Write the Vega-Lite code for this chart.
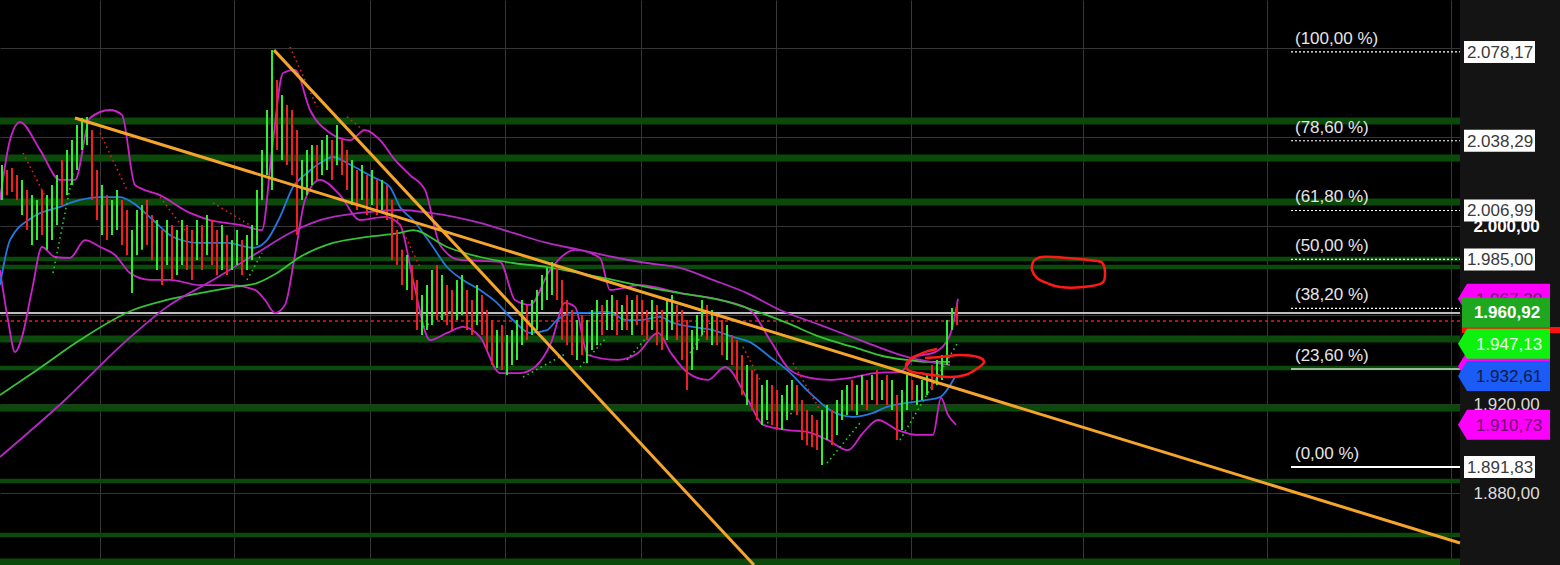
{
"$schema": "https://vega.github.io/schema/vega-lite/v6.json",
"width": 1460, "height": 565,
"autosize": {"type": "none"},
"padding": {"left": 0, "top": 0, "right": 100, "bottom": 0},
"background": "#141414",
"config": {"view": {"fill": "#000000", "stroke": null}, "font": "Liberation Sans", "text": {"font": "Liberation Sans"},
  "axis": {"title": null, "grid": false, "labels": false, "ticks": false, "domain": false}},
"resolve": {"scale": {"color": "independent"}},
"datasets": {
"bands": [
{"v": 2047.2, "k": "major"}, {"v": 2030.6, "k": "major"}, {"v": 2010.8, "k": "major"}, {"v": 1985.2, "k": "minor"}, {"v": 1981.6, "k": "minor"}, {"v": 1949.3, "k": "major"}, {"v": 1936.3, "k": "minor"}, {"v": 1918.3, "k": "major"}, {"v": 1885.5, "k": "minor"}, {"v": 1861.3, "k": "minor"}, {"v": 1849.2, "k": "major"}
],
"price": [{"kind": "last", "v": 1960.92}, {"kind": "close", "v": 1957.4}],
"candles": [
{"t":0,"h":2027.4,"l":2011.7,"d":"u"},{"t":1,"h":2025.2,"l":2013.9,"d":"d"},{"t":2,"h":2026.1,"l":2015.3,"d":"d"},{"t":3,"h":2022.9,"l":2011.7,"d":"d"},{"t":4,"h":2020.7,"l":2005.0,"d":"u"},{"t":5,"h":2016.2,"l":1998.2,"d":"d"},{"t":6,"h":2013.9,"l":1991.5,"d":"u"},{"t":7,"h":2011.7,"l":1993.7,"d":"u"},{"t":8,"h":2016.2,"l":1996.0,"d":"d"},{"t":9,"h":2013.9,"l":1989.3,"d":"u"},
{"t":10,"h":2018.4,"l":1993.7,"d":"u"},{"t":11,"h":2022.9,"l":2000.5,"d":"u"},{"t":12,"h":2029.7,"l":2009.5,"d":"d"},{"t":13,"h":2034.2,"l":2013.9,"d":"u"},{"t":14,"h":2038.6,"l":2018.4,"d":"u"},{"t":15,"h":2045.4,"l":2025.2,"d":"u"},{"t":16,"h":2048.5,"l":2034.2,"d":"u"},{"t":17,"h":2049.0,"l":2036.4,"d":"u"},{"t":18,"h":2043.1,"l":2011.7,"d":"d"},{"t":19,"h":2025.2,"l":2002.7,"d":"d"},
{"t":20,"h":2018.4,"l":1996.0,"d":"u"},{"t":21,"h":2013.9,"l":1993.7,"d":"d"},{"t":22,"h":2011.7,"l":1996.0,"d":"u"},{"t":23,"h":2016.2,"l":1998.2,"d":"u"},{"t":24,"h":2011.7,"l":1991.5,"d":"d"},{"t":25,"h":2007.2,"l":1987.0,"d":"d"},{"t":26,"h":1998.2,"l":1969.9,"d":"u"},{"t":27,"h":2007.2,"l":1987.0,"d":"u"},{"t":28,"h":2009.5,"l":1989.3,"d":"u"},{"t":29,"h":2011.7,"l":1991.5,"d":"d"},
{"t":30,"h":2005.0,"l":1984.8,"d":"d"},{"t":31,"h":2002.7,"l":1980.3,"d":"u"},{"t":32,"h":1998.2,"l":1973.5,"d":"d"},{"t":33,"h":2002.7,"l":1982.5,"d":"u"},{"t":34,"h":2000.5,"l":1975.8,"d":"d"},{"t":35,"h":1998.2,"l":1978.0,"d":"u"},{"t":36,"h":2002.7,"l":1982.5,"d":"u"},{"t":37,"h":2000.5,"l":1980.3,"d":"d"},{"t":38,"h":1998.2,"l":1975.8,"d":"d"},{"t":39,"h":2002.7,"l":1984.8,"d":"u"},
{"t":40,"h":2000.5,"l":1980.3,"d":"d"},{"t":41,"h":2005.0,"l":1987.0,"d":"u"},{"t":42,"h":2002.7,"l":1982.5,"d":"d"},{"t":43,"h":1998.2,"l":1978.0,"d":"d"},{"t":44,"h":2000.5,"l":1980.3,"d":"u"},{"t":45,"h":1996.0,"l":1978.0,"d":"d"},{"t":46,"h":1993.7,"l":1980.3,"d":"u"},{"t":47,"h":1998.2,"l":1982.5,"d":"u"},{"t":48,"h":1993.7,"l":1978.0,"d":"d"},{"t":49,"h":1996.0,"l":1980.3,"d":"u"},
{"t":50,"h":2000.5,"l":1984.8,"d":"u"},{"t":51,"h":2016.2,"l":1991.5,"d":"u"},{"t":52,"h":2034.2,"l":2011.7,"d":"u"},{"t":53,"h":2052.1,"l":2022.9,"d":"u"},{"t":54,"h":2079.0,"l":2016.2,"d":"u"},{"t":55,"h":2065.6,"l":2034.2,"d":"d"},{"t":56,"h":2058.8,"l":2029.7,"d":"u"},{"t":57,"h":2054.4,"l":2027.4,"d":"d"},{"t":58,"h":2052.1,"l":2022.9,"d":"d"},{"t":59,"h":2043.1,"l":1996.0,"d":"d"},
{"t":60,"h":2029.7,"l":2011.7,"d":"u"},{"t":61,"h":2034.2,"l":2013.9,"d":"u"},{"t":62,"h":2036.4,"l":2018.4,"d":"u"},{"t":63,"h":2036.4,"l":2020.7,"d":"d"},{"t":64,"h":2038.6,"l":2022.9,"d":"u"},{"t":65,"h":2040.9,"l":2025.2,"d":"u"},{"t":66,"h":2038.6,"l":2020.7,"d":"d"},{"t":67,"h":2045.4,"l":2027.4,"d":"u"},{"t":68,"h":2038.6,"l":2022.9,"d":"d"},{"t":69,"h":2034.2,"l":2016.2,"d":"d"},
{"t":70,"h":2029.7,"l":2009.5,"d":"u"},{"t":71,"h":2025.2,"l":2007.2,"d":"d"},{"t":72,"h":2027.4,"l":2011.7,"d":"u"},{"t":73,"h":2022.9,"l":2005.0,"d":"d"},{"t":74,"h":2025.2,"l":2009.5,"d":"u"},{"t":75,"h":2020.7,"l":2005.0,"d":"d"},{"t":76,"h":2020.7,"l":2007.2,"d":"u"},{"t":77,"h":2018.4,"l":2002.7,"d":"d"},{"t":78,"h":2011.7,"l":1984.8,"d":"d"},{"t":79,"h":1998.2,"l":1982.5,"d":"d"},
{"t":80,"h":1989.3,"l":1973.5,"d":"d"},{"t":81,"h":1987.0,"l":1971.3,"d":"u"},{"t":82,"h":1982.5,"l":1966.8,"d":"d"},{"t":83,"h":1975.8,"l":1953.3,"d":"d"},{"t":84,"h":1969.0,"l":1951.1,"d":"u"},{"t":85,"h":1973.5,"l":1953.3,"d":"u"},{"t":86,"h":1980.3,"l":1955.6,"d":"u"},{"t":87,"h":1982.5,"l":1957.8,"d":"d"},{"t":88,"h":1978.0,"l":1957.8,"d":"u"},{"t":89,"h":1973.5,"l":1955.6,"d":"d"},
{"t":90,"h":1971.3,"l":1953.3,"d":"d"},{"t":91,"h":1975.8,"l":1957.8,"d":"u"},{"t":92,"h":1978.0,"l":1960.1,"d":"u"},{"t":93,"h":1971.3,"l":1953.3,"d":"d"},{"t":94,"h":1966.8,"l":1951.1,"d":"d"},{"t":95,"h":1973.5,"l":1955.6,"d":"u"},{"t":96,"h":1969.0,"l":1951.1,"d":"d"},{"t":97,"h":1962.3,"l":1944.3,"d":"d"},{"t":98,"h":1957.8,"l":1937.6,"d":"d"},{"t":99,"h":1953.3,"l":1936.3,"d":"u"},
{"t":100,"h":1955.6,"l":1935.4,"d":"d"},{"t":101,"h":1951.1,"l":1933.1,"d":"u"},{"t":102,"h":1953.3,"l":1937.6,"d":"u"},{"t":103,"h":1957.8,"l":1939.9,"d":"u"},{"t":104,"h":1966.8,"l":1946.6,"d":"u"},{"t":105,"h":1964.6,"l":1948.8,"d":"d"},{"t":106,"h":1966.8,"l":1951.1,"d":"u"},{"t":107,"h":1971.3,"l":1953.3,"d":"u"},{"t":108,"h":1978.0,"l":1962.3,"d":"u"},{"t":109,"h":1981.2,"l":1966.8,"d":"u"},
{"t":110,"h":1983.9,"l":1969.0,"d":"u"},{"t":111,"h":1982.5,"l":1966.8,"d":"d"},{"t":112,"h":1975.8,"l":1948.8,"d":"d"},{"t":113,"h":1966.8,"l":1946.6,"d":"d"},{"t":114,"h":1962.3,"l":1942.1,"d":"d"},{"t":115,"h":1957.8,"l":1939.9,"d":"u"},{"t":116,"h":1960.1,"l":1942.1,"d":"d"},{"t":117,"h":1957.8,"l":1938.5,"d":"u"},{"t":118,"h":1962.3,"l":1944.3,"d":"u"},{"t":119,"h":1966.8,"l":1946.6,"d":"u"},
{"t":120,"h":1964.6,"l":1951.1,"d":"d"},{"t":121,"h":1966.8,"l":1953.3,"d":"u"},{"t":122,"h":1969.0,"l":1953.3,"d":"u"},{"t":123,"h":1966.8,"l":1951.1,"d":"d"},{"t":124,"h":1964.6,"l":1953.3,"d":"u"},{"t":125,"h":1969.0,"l":1953.3,"d":"d"},{"t":126,"h":1966.8,"l":1951.1,"d":"u"},{"t":127,"h":1969.0,"l":1955.6,"d":"d"},{"t":128,"h":1966.8,"l":1951.1,"d":"d"},{"t":129,"h":1962.3,"l":1948.8,"d":"d"},
{"t":130,"h":1966.8,"l":1953.3,"d":"u"},{"t":131,"h":1964.6,"l":1946.6,"d":"d"},{"t":132,"h":1962.3,"l":1944.3,"d":"d"},{"t":133,"h":1966.8,"l":1948.8,"d":"u"},{"t":134,"h":1969.0,"l":1953.3,"d":"u"},{"t":135,"h":1964.6,"l":1948.8,"d":"d"},{"t":136,"h":1962.3,"l":1939.9,"d":"d"},{"t":137,"h":1957.8,"l":1926.4,"d":"d"},{"t":138,"h":1953.3,"l":1935.4,"d":"u"},{"t":139,"h":1960.1,"l":1944.3,"d":"u"},
{"t":140,"h":1966.8,"l":1951.1,"d":"u"},{"t":141,"h":1964.6,"l":1948.8,"d":"d"},{"t":142,"h":1962.3,"l":1946.6,"d":"u"},{"t":143,"h":1960.1,"l":1946.6,"d":"d"},{"t":144,"h":1957.8,"l":1942.1,"d":"d"},{"t":145,"h":1955.6,"l":1939.9,"d":"u"},{"t":146,"h":1951.1,"l":1937.6,"d":"d"},{"t":147,"h":1948.8,"l":1930.9,"d":"d"},{"t":148,"h":1942.1,"l":1924.1,"d":"d"},{"t":149,"h":1937.6,"l":1919.7,"d":"u"},
{"t":150,"h":1935.4,"l":1917.4,"d":"d"},{"t":151,"h":1933.1,"l":1912.9,"d":"d"},{"t":152,"h":1928.6,"l":1910.7,"d":"u"},{"t":153,"h":1930.9,"l":1912.9,"d":"u"},{"t":154,"h":1928.6,"l":1910.7,"d":"d"},{"t":155,"h":1926.4,"l":1908.4,"d":"d"},{"t":156,"h":1924.1,"l":1908.4,"d":"u"},{"t":157,"h":1928.6,"l":1912.9,"d":"u"},{"t":158,"h":1930.9,"l":1917.4,"d":"u"},{"t":159,"h":1928.6,"l":1915.2,"d":"d"},
{"t":160,"h":1921.9,"l":1903.9,"d":"d"},{"t":161,"h":1917.4,"l":1901.7,"d":"d"},{"t":162,"h":1915.2,"l":1900.8,"d":"d"},{"t":163,"h":1912.9,"l":1899.4,"d":"d"},{"t":164,"h":1917.4,"l":1892.7,"d":"u"},{"t":165,"h":1919.7,"l":1903.9,"d":"u"},{"t":166,"h":1917.4,"l":1901.7,"d":"d"},{"t":167,"h":1921.9,"l":1906.2,"d":"u"},{"t":168,"h":1926.4,"l":1912.9,"d":"u"},{"t":169,"h":1928.6,"l":1915.2,"d":"u"},
{"t":170,"h":1930.9,"l":1917.4,"d":"d"},{"t":171,"h":1928.6,"l":1915.2,"d":"u"},{"t":172,"h":1933.1,"l":1919.7,"d":"u"},{"t":173,"h":1930.9,"l":1917.4,"d":"d"},{"t":174,"h":1933.1,"l":1921.9,"d":"u"},{"t":175,"h":1935.4,"l":1919.7,"d":"d"},{"t":176,"h":1930.9,"l":1921.9,"d":"u"},{"t":177,"h":1933.1,"l":1919.7,"d":"d"},{"t":178,"h":1930.9,"l":1917.4,"d":"u"},{"t":179,"h":1924.1,"l":1903.9,"d":"d"},
{"t":180,"h":1926.4,"l":1908.4,"d":"u"},{"t":181,"h":1933.1,"l":1917.4,"d":"u"},{"t":182,"h":1930.9,"l":1921.9,"d":"d"},{"t":183,"h":1928.6,"l":1919.7,"d":"u"},{"t":184,"h":1930.9,"l":1921.9,"d":"u"},{"t":185,"h":1933.1,"l":1924.1,"d":"u"},{"t":186,"h":1937.6,"l":1926.4,"d":"d"},{"t":187,"h":1939.9,"l":1928.6,"d":"u"},{"t":188,"h":1942.1,"l":1930.9,"d":"u"},{"t":189,"h":1957.8,"l":1937.6,"d":"u"},
{"t":190,"h":1963.2,"l":1953.3,"d":"u"},{"t":191,"h":1964.6,"l":1955.6,"d":"d"}
],
"ind": [
{"s":"bbU","t":-0.4,"v":2011.7},{"s":"bbU","t":1.6,"v":2038.6},{"s":"bbU","t":3.6,"v":2046.7},{"s":"bbU","t":7.6,"v":2034.2},{"s":"bbU","t":11.6,"v":2020.7},{"s":"bbU","t":14.6,"v":2020.7},{"s":"bbU","t":17.6,"v":2048.5},{"s":"bbU","t":21.6,"v":2052.1},{"s":"bbU","t":24,"v":2049.9},{"s":"bbU","t":26.6,"v":2018.4},{"s":"bbU","t":31.6,"v":2013.9},{"s":"bbU","t":37.6,"v":2005.9},{"s":"bbU","t":41.6,"v":2002.7},{"s":"bbU","t":47.6,"v":2000.5},{"s":"bbU","t":52,"v":1998.2},{"s":"bbU","t":54,"v":2034.2},{"s":"bbU","t":56.2,"v":2068.7},{"s":"bbU","t":58.6,"v":2070.1},{"s":"bbU","t":61.6,"v":2052.1},{"s":"bbU","t":65.6,"v":2041.8},{"s":"bbU","t":69.6,"v":2038.6},{"s":"bbU","t":72.6,"v":2043.1},{"s":"bbU","t":75.6,"v":2038.6},{"s":"bbU","t":78.6,"v":2029.7},{"s":"bbU","t":81.6,"v":2022.9},{"s":"bbU","t":84.6,"v":2016.2},{"s":"bbU","t":87.6,"v":1991.5},{"s":"bbU","t":91.6,"v":1984.8},{"s":"bbU","t":99.6,"v":1983.9},{"s":"bbU","t":102.6,"v":1966.8},{"s":"bbU","t":105.6,"v":1964.6},{"s":"bbU","t":109.6,"v":1980.3},{"s":"bbU","t":114.6,"v":1989.3},{"s":"bbU","t":119.6,"v":1985.7},{"s":"bbU","t":121.6,"v":1971.3},{"s":"bbU","t":127.6,"v":1973.5},{"s":"bbU","t":135.6,"v":1969.9},{"s":"bbU","t":143.6,"v":1966.8},{"s":"bbU","t":149.6,"v":1962.3},{"s":"bbU","t":153.6,"v":1948.8},{"s":"bbU","t":157.6,"v":1935.4},{"s":"bbU","t":161.6,"v":1931.8},{"s":"bbU","t":165.6,"v":1930.9},{"s":"bbU","t":169.6,"v":1931.8},{"s":"bbU","t":174.6,"v":1934.0},{"s":"bbU","t":179.6,"v":1934.5},{"s":"bbU","t":182.6,"v":1941.2},{"s":"bbU","t":186.6,"v":1943.4},{"s":"bbU","t":189.6,"v":1951.1},{"s":"bbU","t":191.2,"v":1967.3},
{"s":"bbL","t":-0.4,"v":1980.3},{"s":"bbL","t":1.2,"v":1957.8},{"s":"bbL","t":2.6,"v":1943.4},{"s":"bbL","t":4,"v":1950.2},{"s":"bbL","t":6,"v":1971.3},{"s":"bbL","t":8,"v":1990.6},{"s":"bbL","t":10.6,"v":1986.1},{"s":"bbL","t":13.6,"v":1985.7},{"s":"bbL","t":16.6,"v":1993.7},{"s":"bbL","t":19.6,"v":1990.6},{"s":"bbL","t":22.6,"v":1987.0},{"s":"bbL","t":25.6,"v":1978.9},{"s":"bbL","t":29.6,"v":1975.8},{"s":"bbL","t":33.6,"v":1975.8},{"s":"bbL","t":39.6,"v":1973.5},{"s":"bbL","t":45.6,"v":1973.5},{"s":"bbL","t":50.6,"v":1971.3},{"s":"bbL","t":52.6,"v":1966.8},{"s":"bbL","t":54.6,"v":1961.0},{"s":"bbL","t":56.6,"v":1964.6},{"s":"bbL","t":58.6,"v":1987.0},{"s":"bbL","t":60.6,"v":2011.7},{"s":"bbL","t":63.6,"v":2020.7},{"s":"bbL","t":67.6,"v":2013.9},{"s":"bbL","t":71.6,"v":2002.7},{"s":"bbL","t":76.6,"v":2004.1},{"s":"bbL","t":79.6,"v":2000.5},{"s":"bbL","t":82.2,"v":1975.8},{"s":"bbL","t":85.6,"v":1948.8},{"s":"bbL","t":89,"v":1952.0},{"s":"bbL","t":92.2,"v":1954.7},{"s":"bbL","t":95.6,"v":1950.2},{"s":"bbL","t":99.6,"v":1934.0},{"s":"bbL","t":103.6,"v":1934.0},{"s":"bbL","t":106.6,"v":1936.7},{"s":"bbL","t":109.8,"v":1947.5},{"s":"bbL","t":112.6,"v":1965.5},{"s":"bbL","t":114.6,"v":1963.7},{"s":"bbL","t":117.2,"v":1942.1},{"s":"bbL","t":123.2,"v":1939.9},{"s":"bbL","t":127.2,"v":1943.0},{"s":"bbL","t":131.2,"v":1952.0},{"s":"bbL","t":133.8,"v":1943.0},{"s":"bbL","t":137.2,"v":1934.0},{"s":"bbL","t":141.2,"v":1930.9},{"s":"bbL","t":144.6,"v":1936.7},{"s":"bbL","t":149.2,"v":1921.9},{"s":"bbL","t":152.2,"v":1910.7},{"s":"bbL","t":157.2,"v":1908.4},{"s":"bbL","t":161.2,"v":1907.5},{"s":"bbL","t":165.2,"v":1903.9},{"s":"bbL","t":169.2,"v":1899.4},{"s":"bbL","t":172.2,"v":1907.1},{"s":"bbL","t":175.2,"v":1912.9},{"s":"bbL","t":179.2,"v":1908.4},{"s":"bbL","t":183.2,"v":1906.2},{"s":"bbL","t":186.2,"v":1906.2},{"s":"bbL","t":187.8,"v":1922.8},{"s":"bbL","t":189.2,"v":1915.2},{"s":"bbL","t":190.8,"v":1910.7},
{"s":"ma20","t":-0.4,"v":1973.5},{"s":"ma20","t":1.6,"v":1993.7},{"s":"ma20","t":6.2,"v":2004.1},{"s":"ma20","t":11.6,"v":2008.6},{"s":"ma20","t":15.6,"v":2011.7},{"s":"ma20","t":19.6,"v":2013.0},{"s":"ma20","t":23.6,"v":2013.0},{"s":"ma20","t":26.2,"v":2010.4},{"s":"ma20","t":30.2,"v":2002.7},{"s":"ma20","t":34.2,"v":1995.1},{"s":"ma20","t":39.6,"v":1992.4},{"s":"ma20","t":45,"v":1992.4},{"s":"ma20","t":50.2,"v":1990.2},{"s":"ma20","t":53,"v":1993.7},{"s":"ma20","t":55.6,"v":2004.1},{"s":"ma20","t":58.2,"v":2017.5},{"s":"ma20","t":61,"v":2023.8},{"s":"ma20","t":63.6,"v":2028.3},{"s":"ma20","t":66.2,"v":2031.0},{"s":"ma20","t":69,"v":2028.3},{"s":"ma20","t":71.6,"v":2025.2},{"s":"ma20","t":74.2,"v":2022.0},{"s":"ma20","t":77.6,"v":2017.5},{"s":"ma20","t":79.6,"v":2008.6},{"s":"ma20","t":82.2,"v":2002.7},{"s":"ma20","t":86.2,"v":1990.6},{"s":"ma20","t":89,"v":1981.6},{"s":"ma20","t":92.2,"v":1975.8},{"s":"ma20","t":95.6,"v":1971.3},{"s":"ma20","t":99,"v":1965.5},{"s":"ma20","t":102.2,"v":1957.8},{"s":"ma20","t":105.6,"v":1952.0},{"s":"ma20","t":109,"v":1953.3},{"s":"ma20","t":111,"v":1957.8},{"s":"ma20","t":114.2,"v":1961.0},{"s":"ma20","t":117,"v":1961.0},{"s":"ma20","t":121,"v":1961.4},{"s":"ma20","t":125,"v":1957.8},{"s":"ma20","t":127.6,"v":1957.8},{"s":"ma20","t":131.6,"v":1959.2},{"s":"ma20","t":134.2,"v":1956.5},{"s":"ma20","t":138.2,"v":1954.7},{"s":"ma20","t":142.2,"v":1953.3},{"s":"ma20","t":146.2,"v":1950.2},{"s":"ma20","t":149.6,"v":1947.9},{"s":"ma20","t":153.6,"v":1941.2},{"s":"ma20","t":157,"v":1935.4},{"s":"ma20","t":161.6,"v":1925.0},{"s":"ma20","t":165.6,"v":1917.4},{"s":"ma20","t":170.2,"v":1914.3},{"s":"ma20","t":174.2,"v":1916.1},{"s":"ma20","t":177,"v":1918.8},{"s":"ma20","t":181,"v":1920.6},{"s":"ma20","t":185,"v":1921.9},{"s":"ma20","t":187.6,"v":1923.2},{"s":"ma20","t":190.6,"v":1932.2},
{"s":"ma100","t":-0.4,"v":1924.1},{"s":"ma100","t":7.6,"v":1936.3},{"s":"ma100","t":15.6,"v":1948.8},{"s":"ma100","t":26.2,"v":1962.3},{"s":"ma100","t":33,"v":1966.8},{"s":"ma100","t":39.6,"v":1969.9},{"s":"ma100","t":46.2,"v":1972.6},{"s":"ma100","t":51,"v":1974.4},{"s":"ma100","t":55,"v":1978.9},{"s":"ma100","t":59.6,"v":1986.1},{"s":"ma100","t":66.2,"v":1992.4},{"s":"ma100","t":73,"v":1995.1},{"s":"ma100","t":79.6,"v":1996.9},{"s":"ma100","t":82.2,"v":1998.2},{"s":"ma100","t":89,"v":1990.6},{"s":"ma100","t":95.6,"v":1986.1},{"s":"ma100","t":102.2,"v":1983.4},{"s":"ma100","t":109,"v":1981.6},{"s":"ma100","t":115.6,"v":1978.9},{"s":"ma100","t":122.2,"v":1975.8},{"s":"ma100","t":129,"v":1972.6},{"s":"ma100","t":135.6,"v":1969.9},{"s":"ma100","t":143.6,"v":1966.8},{"s":"ma100","t":150.2,"v":1962.3},{"s":"ma100","t":157,"v":1956.5},{"s":"ma100","t":163.6,"v":1950.2},{"s":"ma100","t":170.2,"v":1945.7},{"s":"ma100","t":177,"v":1941.2},{"s":"ma100","t":181,"v":1939.9},{"s":"ma100","t":185,"v":1939.0},{"s":"ma100","t":189.6,"v":1939.0},
{"s":"ma200","t":-0.4,"v":1896.3},{"s":"ma200","t":12.6,"v":1921.9},{"s":"ma200","t":25,"v":1948.8},{"s":"ma200","t":33,"v":1963.7},{"s":"ma200","t":42.2,"v":1975.8},{"s":"ma200","t":51,"v":1987.9},{"s":"ma200","t":57.6,"v":1996.9},{"s":"ma200","t":63.6,"v":2002.7},{"s":"ma200","t":71.6,"v":2005.9},{"s":"ma200","t":79.6,"v":2007.2},{"s":"ma200","t":85.6,"v":2005.9},{"s":"ma200","t":95.6,"v":2001.4},{"s":"ma200","t":102.2,"v":1996.9},{"s":"ma200","t":109,"v":1992.4},{"s":"ma200","t":115.6,"v":1989.3},{"s":"ma200","t":122.2,"v":1986.1},{"s":"ma200","t":129,"v":1983.4},{"s":"ma200","t":135.6,"v":1981.2},{"s":"ma200","t":142.2,"v":1975.8},{"s":"ma200","t":149,"v":1969.9},{"s":"ma200","t":155.6,"v":1962.3},{"s":"ma200","t":163.6,"v":1955.6},{"s":"ma200","t":171.6,"v":1948.8},{"s":"ma200","t":181,"v":1941.2},{"s":"ma200","t":185.6,"v":1939.0},{"s":"ma200","t":189.6,"v":1937.6}
],
"sar": [
{"id":"r1","side":"above","t":4.2,"v":2032.8},{"id":"r1","side":"above","t":9,"v":2011.7},
{"id":"g1","side":"below","t":10.2,"v":1978.9},{"id":"g1","side":"below","t":14.2,"v":2023.8},
{"id":"r2","side":"above","t":19.6,"v":2041.8},{"id":"r2","side":"above","t":25,"v":2016.2},
{"id":"r3","side":"above","t":31,"v":2014.8},{"id":"r3","side":"above","t":37,"v":1996.9},
{"id":"r4","side":"above","t":42.2,"v":2010.4},{"id":"r4","side":"above","t":50.2,"v":1999.6},
{"id":"g2","side":"below","t":49,"v":1975.8},{"id":"g2","side":"below","t":52,"v":1987.9},
{"id":"r5","side":"above","t":57.6,"v":2080.4},{"id":"r5","side":"above","t":63,"v":2053.5},
{"id":"r6","side":"above","t":69,"v":2049.0},{"id":"r6","side":"above","t":73,"v":2041.8},
{"id":"r7","side":"above","t":78.6,"v":2005.0},{"id":"r7","side":"above","t":83.6,"v":1981.6},
{"id":"g3","side":"below","t":84.2,"v":1954.7},{"id":"g3","side":"below","t":90.2,"v":1962.3},
{"id":"g4","side":"below","t":104.2,"v":1932.2},{"id":"g4","side":"below","t":113,"v":1943.0},
{"id":"g5","side":"below","t":115.6,"v":1936.7},{"id":"g5","side":"below","t":121,"v":1950.2},
{"id":"g6","side":"below","t":125,"v":1939.9},{"id":"g6","side":"below","t":129,"v":1950.2},
{"id":"g7","side":"below","t":137.6,"v":1943.0},{"id":"g7","side":"below","t":141.6,"v":1956.5},
{"id":"r8","side":"above","t":148.2,"v":1945.7},{"id":"r8","side":"above","t":151.6,"v":1930.9},
{"id":"g8","side":"below","t":153,"v":1911.6},{"id":"g8","side":"below","t":158.2,"v":1916.1},
{"id":"r9","side":"above","t":158.2,"v":1938.5},{"id":"r9","side":"above","t":163.6,"v":1917.4},
{"id":"g9","side":"below","t":165,"v":1893.6},{"id":"g9","side":"below","t":171.6,"v":1911.6},
{"id":"g10","side":"below","t":179.6,"v":1903.9},{"id":"g10","side":"below","t":191,"v":1947.1}
],
"trend": [
{"id":"a","t":14.6,"v":2048.5},{"id":"a","t":291.6,"v":1857.7},
{"id":"b","t":54.4,"v":2079.0},{"id":"b","t":150.4,"v":1847.8}
],
"fib": [
{"pct":100,"p":"(100,00 %)","v":2078.17,"vt":"2.078,17","t0":257.8,"t1":291.6},
{"pct":78.6,"p":"(78,60 %)","v":2038.29,"vt":"2.038,29","t0":257.8,"t1":291.6},
{"pct":61.8,"p":"(61,80 %)","v":2006.99,"vt":"2.006,99","t0":257.8,"t1":291.6},
{"pct":50,"p":"(50,00 %)","v":1985.0,"vt":"1.985,00","t0":257.8,"t1":291.6},
{"pct":38.2,"p":"(38,20 %)","v":1963.01,"vt":"1.963,01","t0":257.8,"t1":291.6},
{"pct":23.6,"p":"(23,60 %)","v":1935.81,"vt":"1.935,81","t0":257.8,"t1":291.6},
{"pct":0,"p":"(0,00 %)","v":1891.83,"vt":"1.891,83","t0":257.8,"t1":291.6}
],
"tags": [
{"name":"bbU","v":1967.3,"vt":"1.967,30"},
{"name":"close","v":1957.4,"vt":"1.957,40"},
{"name":"last","v":1960.92,"vt":"1.960,92"},
{"name":"ma200","v":1937.0,"vt":"1.937,00"},
{"name":"sar","v":1947.13,"vt":"1.947,13"},
{"name":"ma20","v":1932.61,"vt":"1.932,61"},
{"name":"bbL","v":1910.73,"vt":"1.910,73"}
],
"marks": [
{"id":"e1","i":0,"t":206.2,"v":1983.9},{"id":"e1","i":1,"t":208,"v":1986.1},{"id":"e1","i":2,"t":213,"v":1985.7},{"id":"e1","i":3,"t":219,"v":1984.3},{"id":"e1","i":4,"t":220.2,"v":1983.0},{"id":"e1","i":5,"t":220.6,"v":1978.9},{"id":"e1","i":6,"t":220,"v":1974.4},{"id":"e1","i":7,"t":216.2,"v":1972.6},{"id":"e1","i":8,"t":211.6,"v":1972.6},{"id":"e1","i":9,"t":209,"v":1974.4},{"id":"e1","i":10,"t":207,"v":1976.7},{"id":"e1","i":11,"t":206,"v":1980.3},{"id":"e1","i":12,"t":206.2,"v":1983.9},
{"id":"e2","i":0,"t":187,"v":1944.8},{"id":"e2","i":1,"t":184.6,"v":1943.4},{"id":"e2","i":2,"t":182,"v":1940.8},{"id":"e2","i":3,"t":180.8,"v":1937.6},{"id":"e2","i":4,"t":181.6,"v":1934.9},{"id":"e2","i":5,"t":184.6,"v":1933.6},{"id":"e2","i":6,"t":189.6,"v":1932.2},{"id":"e2","i":7,"t":192.6,"v":1933.1},{"id":"e2","i":8,"t":195.2,"v":1936.3},{"id":"e2","i":9,"t":196.4,"v":1939.0},{"id":"e2","i":10,"t":195.2,"v":1941.2},{"id":"e2","i":11,"t":191.6,"v":1942.1},{"id":"e2","i":12,"t":187.6,"v":1941.2},{"id":"e2","i":13,"t":184.6,"v":1940.8}
]
},
"layer": [
{"data": {"name": "bands"}, "transform": [{"filter": "datum.k == 'major'"}],
 "mark": {"type": "rule", "color": "#0b4a0b", "strokeWidth": 7},
 "encoding": {"y": {"field": "v", "type": "quantitative", "scale": {"domain": [1847.8, 2101.5], "nice": false, "zero": false},
   "axis": {"orient": "right", "values": [2080, 2040, 2000, 1960, 1920, 1880], "grid": true, "gridColor": "#363636", "gridWidth": 1, "domain": false, "ticks": false, "labels": true, "labelPadding": 13, "labelFontSize": 17, "labelFont": "Liberation Sans", "labelOverlap": false, "title": null,
                 "labelColor": {"condition": {"test": "datum.value == 2000", "value": "#ffffff"}, "value": "#dcdcdc"},
                 "labelFontWeight": {"condition": {"test": "datum.value == 2000", "value": "bold"}, "value": "normal"},
                 "labelExpr": "(datum.value == 2000 || datum.value == 1920 || datum.value == 1880) ? replace(replace(replace(format(datum.value, ',.2f'), ',', ';'), '.', ','), ';', '.') : ''"}}}},
{"data": {"name": "bands"}, "transform": [{"filter": "datum.k == 'minor'"}],
 "mark": {"type": "rule", "color": "#0b4a0b", "strokeWidth": 4.5},
 "encoding": {"y": {"field": "v", "type": "quantitative", "scale": {"domain": [1847.8, 2101.5], "nice": false, "zero": false}}}},
{"data": {"name": "price"}, "transform": [{"filter": "datum.kind == 'last'"}],
 "mark": {"type": "rule", "color": "#bdbdbd", "strokeWidth": 2},
 "encoding": {"y": {"field": "v", "type": "quantitative", "scale": {"domain": [1847.8, 2101.5], "nice": false, "zero": false}}}},
{"data": {"name": "price"}, "transform": [{"filter": "datum.kind == 'close'"}],
 "mark": {"type": "rule", "color": "#e02020", "strokeWidth": 1.5, "strokeDash": [3, 3]},
 "encoding": {"y": {"field": "v", "type": "quantitative", "scale": {"domain": [1847.8, 2101.5], "nice": false, "zero": false}}}},
{"data": {"name": "ind"},
 "mark": {"type": "line", "strokeWidth": 1.8, "interpolate": "monotone"},
 "encoding": {
  "x": {"field": "t", "type": "quantitative", "scale": {"domain": [-0.4, 291.6], "nice": false, "zero": false},
        "axis": {"values": [19.6, 46.4, 73.6, 100.6, 127.8, 154.8, 181.8, 216.2, 253, 289.8], "grid": true, "gridColor": "#363636", "gridWidth": 1, "labels": false, "ticks": false, "domain": false, "title": null}},
  "y": {"field": "v", "type": "quantitative", "scale": {"domain": [1847.8, 2101.5], "nice": false, "zero": false}},
  "color": {"field": "s", "type": "nominal", "scale": {"domain": ["bbU", "bbL", "ma20", "ma100", "ma200"], "range": ["#cc22cc", "#cc22cc", "#2478e0", "#35c435", "#b42ac4"]}, "legend": null}}},
{"data": {"name": "sar"}, "transform": [{"filter": "datum.side == 'above'"}],
 "mark": {"type": "line", "color": "#dd2222", "strokeWidth": 1.6, "strokeDash": [1.6, 3.4]},
 "encoding": {
  "x": {"field": "t", "type": "quantitative", "scale": {"domain": [-0.4, 291.6], "nice": false, "zero": false}},
  "y": {"field": "v", "type": "quantitative", "scale": {"domain": [1847.8, 2101.5], "nice": false, "zero": false}},
  "detail": {"field": "id"}}},
{"data": {"name": "sar"}, "transform": [{"filter": "datum.side == 'below'"}],
 "mark": {"type": "line", "color": "#22cc22", "strokeWidth": 1.6, "strokeDash": [1.6, 3.4]},
 "encoding": {
  "x": {"field": "t", "type": "quantitative", "scale": {"domain": [-0.4, 291.6], "nice": false, "zero": false}},
  "y": {"field": "v", "type": "quantitative", "scale": {"domain": [1847.8, 2101.5], "nice": false, "zero": false}},
  "detail": {"field": "id"}}},
{"data": {"name": "candles"},
 "mark": {"type": "rule", "strokeWidth": 2},
 "encoding": {
  "x": {"field": "t", "type": "quantitative", "scale": {"domain": [-0.4, 291.6], "nice": false, "zero": false}},
  "y": {"field": "l", "type": "quantitative", "scale": {"domain": [1847.8, 2101.5], "nice": false, "zero": false}},
  "y2": {"field": "h"},
  "color": {"field": "d", "type": "nominal", "scale": {"domain": ["u", "d"], "range": ["#2fee2f", "#ee2020"]}, "legend": null}}},
{"data": {"name": "trend"},
 "mark": {"type": "line", "color": "#f4a52a", "strokeWidth": 3},
 "encoding": {
  "x": {"field": "t", "type": "quantitative", "scale": {"domain": [-0.4, 291.6], "nice": false, "zero": false}},
  "y": {"field": "v", "type": "quantitative", "scale": {"domain": [1847.8, 2101.5], "nice": false, "zero": false}},
  "detail": {"field": "id"}}},
{"data": {"name": "fib"}, "transform": [{"filter": "datum.pct > 30"}],
 "mark": {"type": "rule", "color": "#ffffff", "strokeWidth": 1.2, "strokeDash": [2, 2]},
 "encoding": {
  "x": {"field": "t0", "type": "quantitative", "scale": {"domain": [-0.4, 291.6], "nice": false, "zero": false}},
  "x2": {"field": "t1"},
  "y": {"field": "v", "type": "quantitative", "scale": {"domain": [1847.8, 2101.5], "nice": false, "zero": false}}}},
{"data": {"name": "fib"}, "transform": [{"filter": "datum.pct == 23.6"}],
 "mark": {"type": "rule", "color": "#cfe3cf", "strokeWidth": 1.5},
 "encoding": {
  "x": {"field": "t0", "type": "quantitative", "scale": {"domain": [-0.4, 291.6], "nice": false, "zero": false}},
  "x2": {"field": "t1"},
  "y": {"field": "v", "type": "quantitative", "scale": {"domain": [1847.8, 2101.5], "nice": false, "zero": false}}}},
{"data": {"name": "fib"}, "transform": [{"filter": "datum.pct == 0"}],
 "mark": {"type": "rule", "color": "#ffffff", "strokeWidth": 2},
 "encoding": {
  "x": {"field": "t0", "type": "quantitative", "scale": {"domain": [-0.4, 291.6], "nice": false, "zero": false}},
  "x2": {"field": "t1"},
  "y": {"field": "v", "type": "quantitative", "scale": {"domain": [1847.8, 2101.5], "nice": false, "zero": false}}}},
{"data": {"name": "fib"},
 "mark": {"type": "text", "align": "left", "baseline": "bottom", "dx": 4, "dy": -4, "fontSize": 17, "color": "#e6e6e6"},
 "encoding": {
  "x": {"field": "t0", "type": "quantitative", "scale": {"domain": [-0.4, 291.6], "nice": false, "zero": false}},
  "y": {"field": "v", "type": "quantitative", "scale": {"domain": [1847.8, 2101.5], "nice": false, "zero": false}},
  "text": {"field": "p"}}},
{"data": {"name": "fib"},
 "mark": {"type": "point", "shape": "M0.08,-0.22H1.5V0.22H0.08Z", "size": 10000, "filled": true, "fill": "#ffffff", "opacity": 1, "strokeWidth": 0},
 "encoding": {
  "x": {"datum": 291.6, "type": "quantitative", "scale": {"domain": [-0.4, 291.6], "nice": false, "zero": false}},
  "y": {"field": "v", "type": "quantitative", "scale": {"domain": [1847.8, 2101.5], "nice": false, "zero": false}}}},
{"data": {"name": "fib"},
 "mark": {"type": "text", "align": "center", "baseline": "middle", "dx": 40, "dy": 1, "fontSize": 17, "color": "#3a3a3a"},
 "encoding": {
  "x": {"datum": 291.6, "type": "quantitative", "scale": {"domain": [-0.4, 291.6], "nice": false, "zero": false}},
  "y": {"field": "v", "type": "quantitative", "scale": {"domain": [1847.8, 2101.5], "nice": false, "zero": false}},
  "text": {"field": "vt"}}},
{"data": {"name": "tags"}, "transform": [{"filter": "datum.name == 'bbU'"}],
 "mark": {"type": "point", "shape": "M-0.04,0L0.14,-0.3H1.8V0.3H0.14Z", "size": 10000, "filled": true, "fill": "#ff00ff", "opacity": 1, "strokeWidth": 0},
 "encoding": {
  "x": {"datum": 291.6, "type": "quantitative", "scale": {"domain": [-0.4, 291.6], "nice": false, "zero": false}},
  "y": {"field": "v", "type": "quantitative", "scale": {"domain": [1847.8, 2101.5], "nice": false, "zero": false}}}},
{"data": {"name": "tags"}, "transform": [{"filter": "datum.name == 'bbU'"}],
 "mark": {"type": "text", "align": "center", "baseline": "middle", "dx": 49, "dy": 1, "fontSize": 17, "color": "#6e006e"},
 "encoding": {
  "x": {"datum": 291.6, "type": "quantitative", "scale": {"domain": [-0.4, 291.6], "nice": false, "zero": false}},
  "y": {"field": "v", "type": "quantitative", "scale": {"domain": [1847.8, 2101.5], "nice": false, "zero": false}},
  "text": {"field": "vt"}}},
{"data": {"name": "tags"}, "transform": [{"filter": "datum.name == 'close'"}],
 "mark": {"type": "point", "shape": "M0.04,0.12H2V0.24H0.04Z", "size": 10000, "filled": true, "fill": "#ff1010", "opacity": 1, "strokeWidth": 0},
 "encoding": {
  "x": {"datum": 291.6, "type": "quantitative", "scale": {"domain": [-0.4, 291.6], "nice": false, "zero": false}},
  "y": {"field": "v", "type": "quantitative", "scale": {"domain": [1847.8, 2101.5], "nice": false, "zero": false}}}},
{"data": {"name": "tags"}, "transform": [{"filter": "datum.name == 'last'"}],
 "mark": {"type": "point", "shape": "M0.04,-0.31H1.8V0.29H0.04Z", "size": 10000, "filled": true, "fill": "#1fa81f", "opacity": 1, "strokeWidth": 0},
 "encoding": {
  "x": {"datum": 291.6, "type": "quantitative", "scale": {"domain": [-0.4, 291.6], "nice": false, "zero": false}},
  "y": {"field": "v", "type": "quantitative", "scale": {"domain": [1847.8, 2101.5], "nice": false, "zero": false}}}},
{"data": {"name": "tags"}, "transform": [{"filter": "datum.name == 'last'"}],
 "mark": {"type": "text", "align": "center", "baseline": "middle", "dx": 47, "dy": 0, "fontSize": 17, "fontWeight": "bold", "color": "#ffffff"},
 "encoding": {
  "x": {"datum": 291.6, "type": "quantitative", "scale": {"domain": [-0.4, 291.6], "nice": false, "zero": false}},
  "y": {"field": "v", "type": "quantitative", "scale": {"domain": [1847.8, 2101.5], "nice": false, "zero": false}},
  "text": {"field": "vt"}}},
{"data": {"name": "tags"}, "transform": [{"filter": "datum.name == 'ma200'"}],
 "mark": {"type": "point", "shape": "M-0.04,0L0.14,-0.3H1.8V0.3H0.14Z", "size": 10000, "filled": true, "fill": "#ff00ff", "opacity": 1, "strokeWidth": 0},
 "encoding": {
  "x": {"datum": 291.6, "type": "quantitative", "scale": {"domain": [-0.4, 291.6], "nice": false, "zero": false}},
  "y": {"field": "v", "type": "quantitative", "scale": {"domain": [1847.8, 2101.5], "nice": false, "zero": false}}}},
{"data": {"name": "tags"}, "transform": [{"filter": "datum.name == 'sar'"}],
 "mark": {"type": "point", "shape": "M-0.04,0L0.14,-0.3H1.8V0.3H0.14Z", "size": 10000, "filled": true, "fill": "#0ef00e", "opacity": 1, "strokeWidth": 0},
 "encoding": {
  "x": {"datum": 291.6, "type": "quantitative", "scale": {"domain": [-0.4, 291.6], "nice": false, "zero": false}},
  "y": {"field": "v", "type": "quantitative", "scale": {"domain": [1847.8, 2101.5], "nice": false, "zero": false}}}},
{"data": {"name": "tags"}, "transform": [{"filter": "datum.name == 'sar'"}],
 "mark": {"type": "text", "align": "center", "baseline": "middle", "dx": 49, "dy": 1, "fontSize": 17, "color": "#e8ffe8"},
 "encoding": {
  "x": {"datum": 291.6, "type": "quantitative", "scale": {"domain": [-0.4, 291.6], "nice": false, "zero": false}},
  "y": {"field": "v", "type": "quantitative", "scale": {"domain": [1847.8, 2101.5], "nice": false, "zero": false}},
  "text": {"field": "vt"}}},
{"data": {"name": "tags"}, "transform": [{"filter": "datum.name == 'ma20'"}],
 "mark": {"type": "point", "shape": "M-0.04,0L0.14,-0.3H1.8V0.3H0.14Z", "size": 10000, "filled": true, "fill": "#1a5cf5", "opacity": 1, "strokeWidth": 0},
 "encoding": {
  "x": {"datum": 291.6, "type": "quantitative", "scale": {"domain": [-0.4, 291.6], "nice": false, "zero": false}},
  "y": {"field": "v", "type": "quantitative", "scale": {"domain": [1847.8, 2101.5], "nice": false, "zero": false}}}},
{"data": {"name": "tags"}, "transform": [{"filter": "datum.name == 'ma20'"}],
 "mark": {"type": "text", "align": "center", "baseline": "middle", "dx": 49, "dy": 1, "fontSize": 17, "color": "#0b1d4a"},
 "encoding": {
  "x": {"datum": 291.6, "type": "quantitative", "scale": {"domain": [-0.4, 291.6], "nice": false, "zero": false}},
  "y": {"field": "v", "type": "quantitative", "scale": {"domain": [1847.8, 2101.5], "nice": false, "zero": false}},
  "text": {"field": "vt"}}},
{"data": {"name": "tags"}, "transform": [{"filter": "datum.name == 'bbL'"}],
 "mark": {"type": "point", "shape": "M-0.04,0L0.14,-0.3H1.8V0.3H0.14Z", "size": 10000, "filled": true, "fill": "#ff00ff", "opacity": 1, "strokeWidth": 0},
 "encoding": {
  "x": {"datum": 291.6, "type": "quantitative", "scale": {"domain": [-0.4, 291.6], "nice": false, "zero": false}},
  "y": {"field": "v", "type": "quantitative", "scale": {"domain": [1847.8, 2101.5], "nice": false, "zero": false}}}},
{"data": {"name": "tags"}, "transform": [{"filter": "datum.name == 'bbL'"}],
 "mark": {"type": "text", "align": "center", "baseline": "middle", "dx": 49, "dy": 1, "fontSize": 17, "color": "#6e006e"},
 "encoding": {
  "x": {"datum": 291.6, "type": "quantitative", "scale": {"domain": [-0.4, 291.6], "nice": false, "zero": false}},
  "y": {"field": "v", "type": "quantitative", "scale": {"domain": [1847.8, 2101.5], "nice": false, "zero": false}},
  "text": {"field": "vt"}}},
{"data": {"name": "marks"},
 "mark": {"type": "line", "color": "#ff1a1a", "strokeWidth": 2.5, "interpolate": "cardinal"},
 "encoding": {
  "x": {"field": "t", "type": "quantitative", "scale": {"domain": [-0.4, 291.6], "nice": false, "zero": false}},
  "y": {"field": "v", "type": "quantitative", "scale": {"domain": [1847.8, 2101.5], "nice": false, "zero": false}},
  "detail": {"field": "id"},
  "order": {"field": "i", "type": "quantitative"}}}
]
}
